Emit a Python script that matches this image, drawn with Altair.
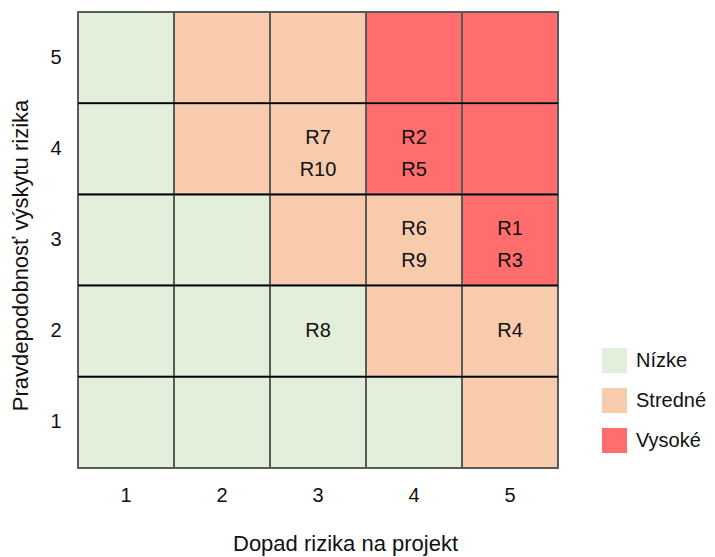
import altair as alt
import pandas as pd

impact = [1, 2, 3, 4, 5]
likelihood = [5, 4, 3, 2, 1]
levels = ["Nízke", "Stredné", "Vysoké"]
level_colors = ["#e2efda", "#f8cbad", "#ff6d6d"]

# level matrix, rows = likelihood 5..1, cols = impact 1..5 (0=Nízke,1=Stredné,2=Vysoké)
matrix = [
    [0, 1, 1, 2, 2],
    [0, 1, 1, 2, 2],
    [0, 0, 1, 1, 2],
    [0, 0, 0, 1, 1],
    [0, 0, 0, 0, 1],
]

risk_names = ["R1", "R2", "R3", "R4", "R5", "R6", "R7", "R8", "R9", "R10"]
risk_impact = [5, 4, 5, 5, 4, 4, 3, 3, 4, 3]
risk_likelihood = [3, 4, 3, 2, 4, 3, 4, 2, 3, 4]

FONT = "Liberation Sans"
W, H = 480, 456

cells = pd.DataFrame(
    [
        {"impact": impact[c], "likelihood": likelihood[r], "level": levels[matrix[r][c]]}
        for r in range(5)
        for c in range(5)
    ]
)

risks = pd.DataFrame({"name": risk_names, "impact": risk_impact, "likelihood": risk_likelihood})
risks["order"] = range(len(risks))
grouped = (
    risks.sort_values("order")
    .groupby(["impact", "likelihood"], as_index=False)["name"]
    .agg(list)
)
grouped["first"] = grouped["name"].str[0]
grouped["second"] = grouped["name"].apply(lambda s: s[1] if len(s) > 1 else "")
grouped["count"] = grouped["name"].str.len()
grouped = grouped.drop(columns=["name"])
pairs = grouped[grouped["count"] > 1]
singles = grouped[grouped["count"] == 1]

xscale = alt.Scale(domain=impact, paddingInner=0, paddingOuter=0)
yscale = alt.Scale(domain=likelihood, paddingInner=0, paddingOuter=0)

x_axis = alt.Axis(
    title="Dopad rizika na projekt",
    labelAngle=0,
    ticks=False,
    tickSize=0,
    domain=False,
    labelPadding=17,
    labelFontSize=20,
    labelFont=FONT,
    labelColor="#111",
    titleFont=FONT,
    titleFontSize=22,
    titleFontWeight="normal",
    titleColor="#111",
    titleX=267,
    titleY=75,
    titleBaseline="middle",
    titleAlign="center",
)
y_axis = alt.Axis(
    title="Pravdepodobnosť výskytu rizika",
    ticks=False,
    tickSize=0,
    domain=False,
    labelPadding=17,
    labelFontSize=20,
    labelFont=FONT,
    labelColor="#111",
    titleFont=FONT,
    titleFontSize=22,
    titleFontWeight="normal",
    titleColor="#111",
    titleX=-58,
    titleY=243,
    titleBaseline="middle",
    titleAlign="center",
    titleAngle=-90,
)

rects = (
    alt.Chart(cells)
    .mark_rect(stroke="#5a5a5a", strokeWidth=2)
    .encode(
        x=alt.X("impact:O", scale=xscale, axis=x_axis),
        y=alt.Y("likelihood:O", scale=yscale, axis=y_axis),
        color=alt.Color(
            "level:N",
            scale=alt.Scale(domain=levels, range=level_colors),
            legend=alt.Legend(
                title=None,
                orient="none",
                legendX=524,
                legendY=336,
                symbolType="square",
                symbolSize=625,
                symbolStrokeWidth=0,
                symbolOpacity=1,
                rowPadding=15,
                labelOffset=9,
                labelFont=FONT,
                labelFontSize=20,
                labelColor="#111",
                padding=0,
            ),
        ),
    )
)

hlines = (
    alt.Chart(pd.DataFrame({"likelihood": [4, 3, 2, 1]}))
    .mark_rule(color="#000", strokeWidth=1.5)
    .encode(
        y=alt.Y("likelihood:O", scale=yscale, bandPosition=0),
        x=alt.value(0),
        x2=alt.value(W),
    )
)

def text_layer(df, field, dy):
    return (
        alt.Chart(df)
        .mark_text(font=FONT, fontSize=20, color="#111", dy=dy)
        .encode(
            x=alt.X("impact:O", scale=xscale),
            y=alt.Y("likelihood:O", scale=yscale),
            text=f"{field}:N",
        )
    )

texts = [
    text_layer(pairs, "first", -11),
    text_layer(pairs, "second", 21),
    text_layer(singles, "first", 0),
]

chart = (
    alt.layer(rects, hlines, *texts)
    .properties(
        width=W,
        height=H,
        autosize=alt.AutoSizeParams(type="none"),
        padding={"left": 70, "top": 4, "right": 149, "bottom": 90},
    )
    .configure_view(stroke=None)
)

chart.save("out.html", embed_options={"renderer": "svg", "actions": False})
